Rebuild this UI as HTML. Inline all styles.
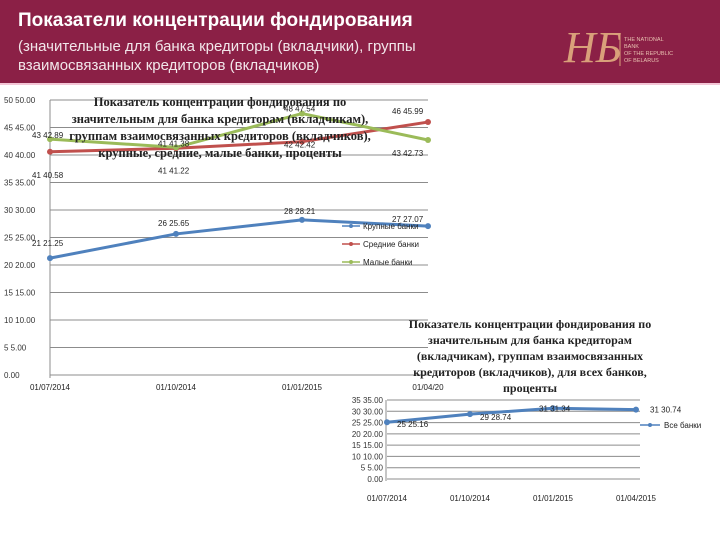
<!DOCTYPE html>
<html><head><meta charset="utf-8"><style>
body{margin:0;width:720px;height:540px;background:#fff;overflow:hidden;position:relative;font-family:"Liberation Sans","DejaVu Sans",sans-serif}
#hdr{position:absolute;left:0;top:0;width:720px;height:83px;background:#8b2046}
#hdr .t{position:absolute;left:18px;top:10px;color:#fff;font-weight:bold;font-size:19px}
#hdr .s{position:absolute;left:18px;top:37px;color:#f2e6ea;font-size:15px;line-height:19px}
#line{position:absolute;left:0;top:83px;width:720px;height:2px;background:#f4c6d6}
svg text{font-family:"Liberation Sans","DejaVu Sans",sans-serif}
</style></head><body>
<div id="hdr">
<div class="t">Показатели концентрации фондирования</div>
<div class="s">(значительные для банка кредиторы (вкладчики), группы<br>взаимосвязанных кредиторов (вкладчиков)</div>
<svg style="position:absolute;left:560px;top:14px" width="120" height="60">
<text x="4" y="48" style="font-family:'Liberation Serif',serif;font-style:italic" font-size="44" fill="#d9a07a">НБ</text>
<line x1="60" y1="20" x2="60" y2="52" stroke="#d9a07a"/>
<text x="64" y="27" font-size="5.5" fill="#e8c0b0">THE NATIONAL</text>
<text x="64" y="34" font-size="5.5" fill="#e8c0b0">BANK</text>
<text x="64" y="41" font-size="5.5" fill="#e8c0b0">OF THE REPUBLIC</text>
<text x="64" y="48" font-size="5.5" fill="#e8c0b0">OF BELARUS</text>
</svg>
</div>
<div id="line"></div>
<svg id="c" width="720" height="540" style="position:absolute;left:0;top:0"></svg>
<script>
const cats1=["01/07/2014","01/10/2014","01/01/2015","01/04/20"];
const large=[21.25,25.65,28.21,27.07];
const medium=[40.58,41.22,42.42,45.99];
const small=[42.89,41.38,47.54,42.73];
const ticks1=[0,5,10,15,20,25,30,35,40,45,50];
const cats2=["01/07/2014","01/10/2014","01/01/2015","01/04/2015"];
const all=[25.16,28.74,31.34,30.74];
const ticks2=[0,5,10,15,20,25,30,35];
const NS="http://www.w3.org/2000/svg";
const svg=document.getElementById('c');
function el(t,a,txt){const e=document.createElementNS(NS,t);for(const k in a)e.setAttribute(k,a[k]);if(txt!==undefined)e.textContent=txt;svg.appendChild(e);return e;}
function fmt(v){return Math.round(v)+" "+v.toFixed(2);}
const x1=i=>50+i*126, y1=v=>375-v*5.5;
ticks1.forEach(t=>{
 const g=el('line',{x1:50,x2:428,y1:y1(t),y2:y1(t),stroke:'#8c8c8c','stroke-width':1});
 
 
 const l=el('text',{x:4,y:y1(t)+3,'font-size':8,fill:'#333'},(t?t+" ":"")+t.toFixed(2));
 
 
});
el('line',{x1:50,x2:50,y1:100,y2:378,stroke:'#8c8c8c'});
cats1.forEach((c,i)=>{const l=el('text',{x:x1(i),y:390,'font-size':8,'text-anchor':'middle',fill:'#222'},c);
 
 });
function series(vals,col,name,xf,yf,w){
 const p=el('polyline',{points:vals.map((v,i)=>xf(i)+","+yf(v)).join(" "),fill:'none',stroke:col,'stroke-width':w});
 
 
 vals.forEach((v,i)=>{const m=el('circle',{cx:xf(i),cy:yf(v),r:3,fill:col});
  
  });
}
series(medium,'#c0504d','medium-banks',x1,y1,3);
series(small,'#9bbb59','small-banks',x1,y1,3);
series(large,'#4f81bd','large-banks',x1,y1,3);
const lo=[[-18,-12],[-18,-8],[-18,-6],[-36,-4]];
large.forEach((v,i)=>{const l=el('text',{x:x1(i)+lo[i][0],y:y1(v)+lo[i][1],'font-size':8,fill:'#222'},fmt(v));
 
 });
medium.forEach((v,i)=>{const l=el('text',{x:x1(i)+[-18,-18,-18,-36][i],y:y1(v)+[26,25,6,-8][i],'font-size':8,fill:'#222'},fmt(v));
 
 });
small.forEach((v,i)=>{const l=el('text',{x:x1(i)+[-18,-18,-18,-36][i],y:y1(v)+[-1,-1,-2,16][i],'font-size':8,fill:'#222'},fmt(v));
 
 });
const t1=["Показатель концентрации фондирования по","значительным для банка кредиторам (вкладчикам),","группам взаимосвязанных кредиторов (вкладчиков),","крупные, средние, малые банки, проценты"];
t1.forEach((s,i)=>{const l=el('text',{x:220,y:106+i*17,'font-size':12.5,'font-weight':'bold','text-anchor':'middle',fill:'#222',style:"font-family:'Liberation Serif',serif"},s);
 
 });
[["Крупные банки",'#4f81bd',226],["Средние банки",'#c0504d',244],["Малые банки",'#9bbb59',262]].forEach(d=>{
 el('line',{x1:342,x2:360,y1:d[2],y2:d[2],stroke:d[1],'stroke-width':1.5});el('circle',{cx:351,cy:d[2],r:2,fill:d[1]});
 const l=el('text',{x:363,y:d[2]+3,'font-size':8,fill:'#222'},d[0]);
 
 });
const x2=i=>387+i*83, y2=v=>479-v*79/35;
ticks2.forEach(t=>{
 const g=el('line',{x1:387,x2:640,y1:y2(t),y2:y2(t),stroke:'#8c8c8c'});
 
 
 const l=el('text',{x:383,y:y2(t)+3,'font-size':8,'text-anchor':'end',fill:'#333'},(t?t+" ":"")+t.toFixed(2));
 
 
});
el('line',{x1:386,x2:386,y1:400,y2:481,stroke:'#8c8c8c'});
cats2.forEach((c,i)=>{const l=el('text',{x:x2(i),y:501,'font-size':8,'text-anchor':'middle',fill:'#222'},c);
 
 });
series(all,'#4f81bd','all-banks',x2,y2,3);
all.forEach((v,i)=>{const l=el('text',{x:x2(i)+[10,10,-14,14][i],y:y2(v)+[5,6,3,3][i],'font-size':8,fill:'#222'},fmt(v));
 
 });
const t2=["Показатель концентрации фондирования по","значительным для банка кредиторам","(вкладчикам), группам взаимосвязанных","кредиторов (вкладчиков), для всех банков,","проценты"];
t2.forEach((s,i)=>{const l=el('text',{x:530,y:328+i*16,'font-size':12,'font-weight':'bold','text-anchor':'middle',fill:'#222',style:"font-family:'Liberation Serif',serif"},s);
 
 });
el('line',{x1:640,x2:660,y1:425,y2:425,stroke:'#4f81bd','stroke-width':1.5});el('circle',{cx:650,cy:425,r:2,fill:'#4f81bd'});
const lg=el('text',{x:664,y:428,'font-size':8,fill:'#222'},"Все банки");


</script>
</body></html>
